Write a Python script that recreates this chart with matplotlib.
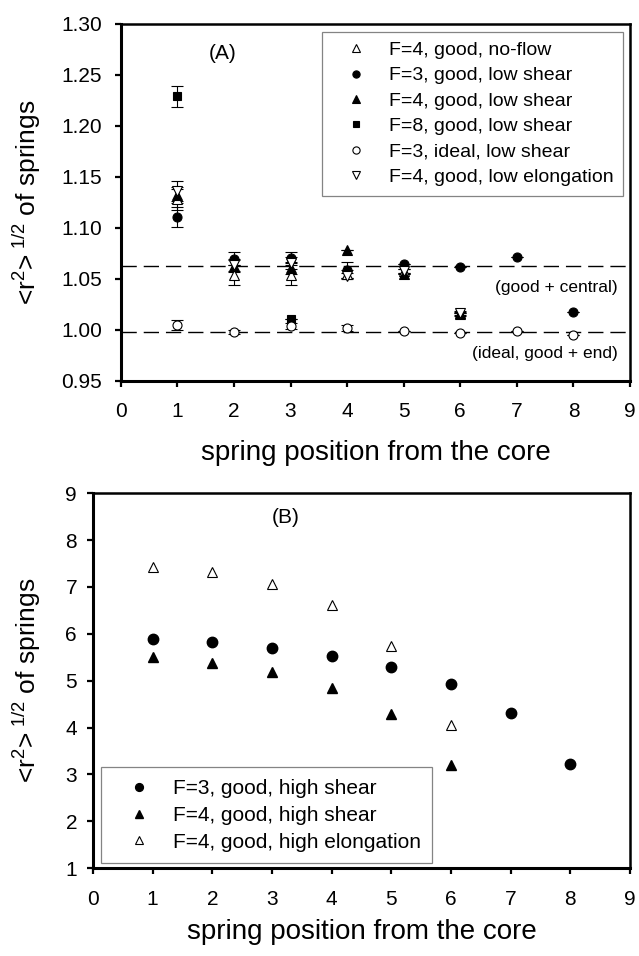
import numpy as np
import matplotlib
matplotlib.use("Agg")
import matplotlib.pyplot as plt

plt.rcParams['font.family'] = 'Liberation Sans'
plt.rcParams['mathtext.fontset'] = 'custom'
plt.rcParams['mathtext.rm'] = 'Liberation Sans'
plt.rcParams['mathtext.it'] = 'Liberation Sans:italic'

# panel A data
noflow_x = [1, 2, 3, 4, 5, 6]
noflow_y = [1.128, 1.054, 1.054, 1.055, 1.058, 1.016]
noflow_e = [0.010, 0.010, 0.010, 0.004, 0.002, 0.002]

f3_low_x = [1, 2, 3, 4, 5, 6, 7, 8]
f3_low_y = [1.111, 1.070, 1.071, 1.059, 1.065, 1.062, 1.072, 1.018]
f3_low_e = [0.010, 0.006, 0.005, 0.008, 0.0, 0.0, 0.0, 0.0]

f4_low_x = [1, 2, 3, 4, 5, 6]
f4_low_y = [1.132, 1.063, 1.061, 1.078, 1.055, 1.017]
f4_low_e = [0.008, 0.006, 0.006, 0.0, 0.0, 0.0]

f8_low_x = [1, 3]
f8_low_y = [1.229, 1.011]
f8_low_e = [0.010, 0.0]

ideal_x = [1, 2, 3, 4, 5, 6, 7, 8]
ideal_y = [1.005, 0.998, 1.004, 1.002, 0.999, 0.997, 0.999, 0.995]
ideal_e = [0.005, 0.002, 0.003, 0.003, 0.0, 0.0, 0.0, 0.0]

elong_x = [1, 2, 3, 4, 5, 6]
elong_y = [1.136, 1.064, 1.066, 1.053, 1.058, 1.017]
elong_e = [0.010, 0.006, 0.006, 0.003, 0.002, 0.002]

good_central = 1.063
ideal_end = 0.998

# panel B data
f3_high_x = [1, 2, 3, 4, 5, 6, 7, 8]
f3_high_y = [5.90, 5.83, 5.70, 5.53, 5.29, 4.92, 4.32, 3.23]
f4_high_x = [1, 2, 3, 4, 5, 6]
f4_high_y = [5.50, 5.38, 5.18, 4.85, 4.28, 3.20]
f4_helong_x = [1, 2, 3, 4, 5, 6]
f4_helong_y = [7.43, 7.32, 7.07, 6.61, 5.74, 4.05]

fig = plt.figure(figsize=(6.39, 9.56), dpi=100)
ax1 = fig.add_axes([0.189, 0.6015, 0.797, 0.3735])
ax2 = fig.add_axes([0.1455, 0.092, 0.8405, 0.392])

ylab = r'<r$^{2}$>$^{\ \mathit{1/2}}$ of springs'


def style(ax):
    for s in ['left', 'bottom']:
        ax.spines[s].set_linewidth(2.2)
    for s in ['top', 'right']:
        ax.spines[s].set_linewidth(1.8)
    ax.tick_params(which='both', direction='out', length=4.5, width=1.6,
                   labelsize=15, top=False, right=False)
    ax.tick_params(axis='x', pad=11)
    ax.set_xlim(0, 9)
    ax.set_xticks(range(10))


def series(ax, x, y, e, marker, fill, ms, lab):
    fc = 'black' if fill else 'white'
    ax.errorbar(x, y, yerr=e, fmt='none', ecolor='black', elinewidth=0.8,
                capsize=4.5, capthick=0.8, zorder=2)
    ax.plot(x, y, linestyle='none', marker=marker, ms=ms, mfc=fc, mec='black',
            mew=0.8, label=lab, zorder=3)


# (A)
series(ax1, noflow_x, noflow_y, noflow_e, '^', False, 6.5, 'F=4, good, no-flow')
series(ax1, f3_low_x, f3_low_y, f3_low_e, 'o', True, 6.5, 'F=3, good, low shear')
series(ax1, f4_low_x, f4_low_y, f4_low_e, '^', True, 6.5, 'F=4, good, low shear')
series(ax1, f8_low_x, f8_low_y, f8_low_e, 's', True, 6, 'F=8, good, low shear')
series(ax1, ideal_x, ideal_y, ideal_e, 'o', False, 6.5, 'F=3, ideal, low shear')
series(ax1, elong_x, elong_y, elong_e, 'v', False, 6.5, 'F=4, good, low elongation')

ax1.axhline(good_central, color='black', lw=1.0, dashes=(11, 5), zorder=1)
ax1.axhline(ideal_end, color='black', lw=1.0, dashes=(11, 5), zorder=1)
ax1.text(8.78, 1.042, '(good + central)', ha='right', va='center', fontsize=12.5)
ax1.text(8.78, 0.977, '(ideal, good + end)', ha='right', va='center', fontsize=12.5)
ax1.text(1.8, 1.2713, '(A)', ha='center', va='center', fontsize=15)

style(ax1)
ax1.set_ylim(0.95, 1.30)
ax1.set_yticks(np.arange(0.95, 1.301, 0.05))
ax1.set_yticklabels(['%.2f' % v for v in np.arange(0.95, 1.301, 0.05)])
ax1.tick_params(axis='y', pad=9)
ax1.set_xlabel('spring position from the core', fontsize=20)
ax1.set_ylabel(ylab, fontsize=19)
ax1.xaxis.set_label_coords(0.5, -0.165)
ax1.yaxis.set_label_coords(-0.153, 0.5)
leg1 = ax1.legend(loc='upper right', bbox_to_anchor=(0.986, 0.978), borderaxespad=0,
                  fontsize=14, frameon=True, fancybox=False, edgecolor='#666666',
                  handlelength=2.5, handletextpad=0.4, borderpad=0.5,
                  labelspacing=0.4, markerscale=0.8)
leg1.get_frame().set_linewidth(0.9)

# (B)
ax2.plot(f3_high_x, f3_high_y, 'o', ms=7.5, mfc='black', mec='black',
         label='F=3, good, high shear')
ax2.plot(f4_high_x, f4_high_y, '^', ms=7.5, mfc='black', mec='black',
         label='F=4, good, high shear')
ax2.plot(f4_helong_x, f4_helong_y, '^', ms=7.5, mfc='white', mec='black', mew=0.8,
         label='F=4, good, high elongation')
ax2.text(3.23, 8.49, '(B)', ha='center', va='center', fontsize=15)

style(ax2)
ax2.set_ylim(1, 9)
ax2.set_yticks(range(1, 10))
ax2.tick_params(axis='y', pad=7)
ax2.set_xlabel('spring position from the core', fontsize=20)
ax2.set_ylabel(ylab, fontsize=19)
ax2.xaxis.set_label_coords(0.5, -0.136)
ax2.yaxis.set_label_coords(-0.093, 0.5)
leg2 = ax2.legend(loc='lower left', bbox_to_anchor=(0.015, 0.013), borderaxespad=0,
                  fontsize=15, frameon=True, fancybox=False, edgecolor='#666666',
                  handlelength=2.5, handletextpad=0.4, borderpad=0.55,
                  labelspacing=0.38, markerscale=0.75)
leg2.get_frame().set_linewidth(0.9)

fig.savefig('out.png', dpi=100)
